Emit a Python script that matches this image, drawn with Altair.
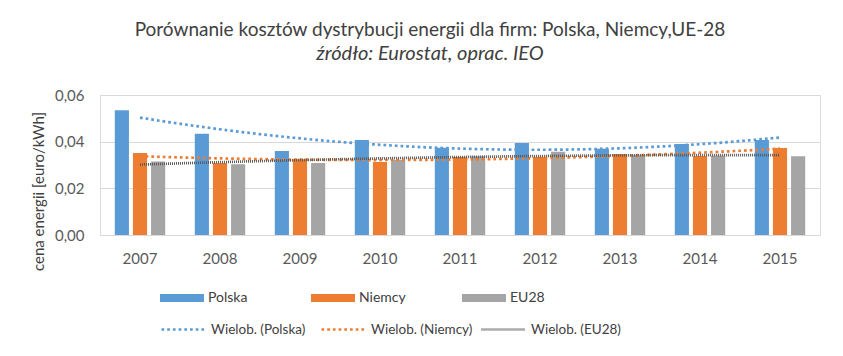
import altair as alt
import pandas as pd

years = [2007, 2008, 2009, 2010, 2011, 2012, 2013, 2014, 2015]
polska = [0.0535, 0.0434, 0.0360, 0.0407, 0.0374, 0.0394, 0.0370, 0.0390, 0.0407]
niemcy = [0.0351, 0.0309, 0.0325, 0.0313, 0.0334, 0.0334, 0.0347, 0.0339, 0.0373]
eu28 = [0.0315, 0.0303, 0.0309, 0.0321, 0.0337, 0.0357, 0.0342, 0.0340, 0.0338]

series_names = ["Polska", "Niemcy", "EU28"]
trend_names = ["Wielob. (Polska)", "Wielob. (Niemcy)", "Wielob. (EU28)"]
bar_colors = ["#5B9BD5", "#ED7D31", "#A5A5A5"]
trend_colors = ["#5B9BD5", "#ED7D31", "#595959"]

rows = []
for name, vals in zip(series_names, [polska, niemcy, eu28]):
    for y, v in zip(years, vals):
        rows.append({"year": y, "series": name, "value": v})
df = pd.DataFrame(rows)

FONT = "Lato"
TXT = "#404040"


def yaxis():
    return alt.Axis(
        values=[0, 0.02, 0.04, 0.06],
        labelExpr="replace(format(datum.value, '.2f'), '.', ',')",
        title="cena energii [euro/kWh]",
        titleFontWeight="normal", titleFontSize=15, titleColor=TXT, titleFont=FONT,
        titleX=-54, titleY=96, titleAngle=-90, titleAlign="center",
        labelFontSize=15, labelColor="#595959", labelFont=FONT, labelPadding=16,
        domain=False, ticks=False, grid=True, gridColor="#D9D9D9",
    )


def line_legend():
    return alt.Legend(
        title=None, orient="none", legendX=60, legendY=211,
        direction="horizontal", columns=3, gridAlign="all",
        columnPadding=3, labelOffset=4,
        symbolType="stroke", symbolSize=1936,
        labelFontSize=13.5, labelFont=FONT, labelColor=TXT)


bars = alt.Chart(df).mark_bar().encode(
    x=alt.X("year:O",
            scale=alt.Scale(paddingInner=0.37, paddingOuter=0.185),
            axis=alt.Axis(title=None, labelAngle=0, labelFontSize=15, labelColor="#595959",
                          labelFont=FONT, labelPadding=16, ticks=False,
                          domainColor="#D9D9D9", domainWidth=1)),
    xOffset=alt.XOffset("series:N", sort=series_names, scale=alt.Scale(paddingInner=0.22)),
    y=alt.Y("value:Q", scale=alt.Scale(domain=[0, 0.06], nice=False), axis=yaxis()),
    fill=alt.Fill("series:N",
                  scale=alt.Scale(domain=series_names, range=bar_colors),
                  legend=alt.Legend(
                      title=None, orient="none", legendX=60, legendY=181,
                      direction="horizontal", columns=3, gridAlign="all",
                      columnPadding=56, labelOffset=4,
                      symbolType="M-1,-0.18H1V0.18H-1Z", symbolSize=1936,
                      symbolStrokeWidth=0,
                      labelFontSize=14, labelFont=FONT, labelColor=TXT)),
)

trends = alt.Chart(df).transform_regression(
    "year", "value", groupby=["series"], method="poly", order=2
).transform_calculate(
    trend="'Wielob. (' + datum.series + ')'"
).mark_line(strokeCap="butt").encode(
    x=alt.X("year:Q", scale=alt.Scale(domain=[2006.5, 2015.5], nice=False, zero=False), axis=None),
    y=alt.Y("value:Q", scale=alt.Scale(domain=[0, 0.06], nice=False), axis=yaxis()),
    stroke=alt.Stroke("trend:N",
                      scale=alt.Scale(domain=trend_names, range=trend_colors),
                      legend=line_legend()),
    strokeDash=alt.StrokeDash("trend:N",
                              scale=alt.Scale(domain=trend_names, range=[[2.7, 3], [2.7, 3], [1, 1]]),
                              legend=line_legend()),
    strokeWidth=alt.StrokeWidth("trend:N",
                                scale=alt.Scale(domain=trend_names, range=[2.7, 2.7, 1]),
                                legend=line_legend()),
)

chart = alt.layer(bars, trends).resolve_scale(x="independent").properties(
    width=720, height=140,
    autosize=alt.AutoSizeParams(type="none"),
    padding={"left": 100, "top": 95, "right": 23, "bottom": 121},
    title=alt.TitleParams(
        text="Porównanie kosztów dystrybucji energii dla firm: Polska, Niemcy,UE-28",
        subtitle="źródło: Eurostat, oprac. IEO",
        anchor="middle", frame="group", dx=-30, offset=24,
        font=FONT, fontSize=19, fontWeight="normal", color=TXT,
        subtitleFont=FONT, subtitleFontSize=20, subtitleFontStyle="italic",
        subtitleColor=TXT, subtitlePadding=4,
    ),
).configure_view(stroke=None).configure(background="white").configure_axisLeft(
    titleFontSize=15, titleFont=FONT, titleColor=TXT, titleFontWeight="normal",
    titleX=-54, titleY=96, titleAngle=-90, titleAlign="center",
)

chart.save("out.html", embed_options={"renderer": "svg", "actions": False})
